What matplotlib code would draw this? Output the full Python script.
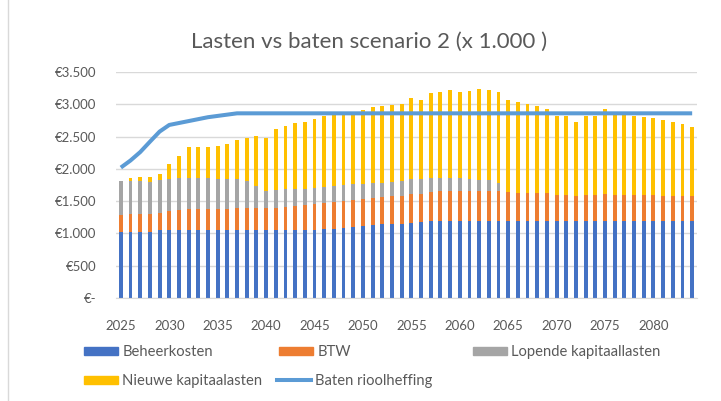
import matplotlib
matplotlib.use("Agg")
import matplotlib.pyplot as plt
import numpy as np
from matplotlib.patches import Patch
from matplotlib.lines import Line2D
from matplotlib.ticker import FuncFormatter

# Data (x 1.000 euro)
years = np.arange(2025, 2085)

beheerkosten = [
    1020, 1020, 1020, 1020, 1046, 1046, 1046, 1046, 1046, 1046,
    1046, 1046, 1046, 1046, 1046, 1046, 1046, 1046, 1046, 1046,
    1056, 1072, 1072, 1087, 1103, 1113, 1129, 1139, 1139, 1149,
    1165, 1180, 1191, 1191, 1191, 1191, 1191, 1191, 1191, 1191,
    1191, 1191, 1191, 1191, 1191, 1191, 1191, 1191, 1191, 1191,
    1191, 1191, 1191, 1191, 1191, 1191, 1191, 1191, 1191, 1191,
]
btw = [
    268, 278, 284, 278, 278, 309, 319, 330, 330, 330,
    335, 335, 351, 351, 351, 351, 354, 371, 379, 397,
    402, 397, 407, 408, 417, 423, 422, 428, 438, 438,
    453, 438, 453, 463, 463, 463, 463, 469, 463, 463,
    448, 437, 437, 437, 437, 406, 406, 396, 406, 406,
    422, 406, 406, 406, 406, 406, 396, 396, 396, 381,
]
lopende_kapitaallasten = [
    526, 516, 510, 506, 506, 485, 490, 490, 490, 479,
    469, 469, 453, 422, 345, 267, 274, 273, 265, 247,
    253, 253, 258, 252, 238, 237, 233, 217, 227, 227,
    222, 222, 222, 212, 212, 201, 191, 170, 171, 134,
    0, 0, 0, 0, 0, 0, 0, 0, 0, 0,
    0, 0, 0, 0, 0, 0, 0, 0, 0, 0,
]
nieuwe_kapitaalasten = [
    0, 52, 67, 77, 98, 237, 351, 474, 474, 489,
    504, 531, 598, 665, 768, 820, 944, 975, 1016, 1032,
    1062, 1092, 1108, 1098, 1087, 1145, 1170, 1185, 1186, 1196,
    1265, 1225, 1314, 1330, 1356, 1341, 1361, 1407, 1397, 1408,
    1423, 1403, 1377, 1341, 1300, 1217, 1228, 1135, 1228, 1228,
    1315, 1248, 1248, 1228, 1212, 1187, 1166, 1135, 1114, 1072,
]
baten_rioolheffing = [
    2020, 2130, 2260, 2420, 2577, 2680, 2710, 2740, 2770, 2800,
    2820, 2840] + [2860] * 48

series_names = ["Beheerkosten", "BTW", "Lopende kapitaallasten", "Nieuwe kapitaalasten"]
line_name = "Baten rioolheffing"
title = "Lasten vs baten scenario 2 (x 1.000 )"

colors = ["#4472c4", "#ed7d31", "#a5a5a5", "#ffc000"]
line_color = "#5b9bd5"
text_color = "#595959"
grid_color = "#d9d9d9"

plt.rcParams["font.family"] = ["Lato", "DejaVu Sans"]

W, H = 721, 401
fig = plt.figure(figsize=(W / 100, H / 100), dpi=100)
ax = fig.add_axes([116 / W, 1 - 298 / H, (697 - 116) / W, (298 - 72) / H])

bottom = np.zeros(len(years))
for vals, col in zip([beheerkosten, btw, lopende_kapitaallasten, nieuwe_kapitaalasten], colors):
    ax.bar(years, vals, bottom=bottom, width=0.4, color=col, zorder=2)
    bottom += np.array(vals)

ax.plot(years, baten_rioolheffing, color=line_color, lw=2.9, zorder=3,
        solid_capstyle="butt")

ax.set_xlim(2024.5, 2084.5)
ax.set_ylim(0, 3500)
ax.set_yticks(np.arange(0, 3501, 500))
ax.set_xticks(np.arange(2025, 2085, 5))


def euro(v, pos):
    if v == 0:
        return "€-"
    return "€" + f"{int(v):,}".replace(",", ".")


ax.yaxis.set_major_formatter(FuncFormatter(euro))
ax.grid(axis="y", color=grid_color, lw=1, zorder=0)
for s in ["top", "right", "left"]:
    ax.spines[s].set_visible(False)
ax.spines["bottom"].set_color(grid_color)
ax.tick_params(axis="both", length=0, colors=text_color, labelsize=9.5)
ax.tick_params(axis="y", pad=14)
ax.tick_params(axis="x", pad=16)

fig.text(369 / W, 1 - 42 / H, title, ha="center", va="center",
         fontsize=16, color=text_color)

# legend entries laid out like the Excel legend (3 columns, row-wise)
handles = [Patch(color=c) for c in colors] + [Line2D([], [], color=line_color, lw=2.9)]
labels = series_names + [line_name]
spots = [(84, 352), (279, 352), (473, 352), (84, 381), (277, 381)]
for h, lab, (px, py) in zip(handles, labels, spots):
    fig.legend([h], [lab], loc="center left", bbox_to_anchor=(px / W, 1 - py / H),
               frameon=False, fontsize=10.6, borderpad=0, borderaxespad=0,
               handlelength=2.3, handleheight=0.5, handletextpad=0.3,
               labelcolor=text_color)

# chart area border on the left
fig.add_artist(Line2D([8 / W, 8 / W], [0, 1], color=grid_color, lw=1,
                      transform=fig.transFigure))

fig.savefig("out.png", dpi=100)
